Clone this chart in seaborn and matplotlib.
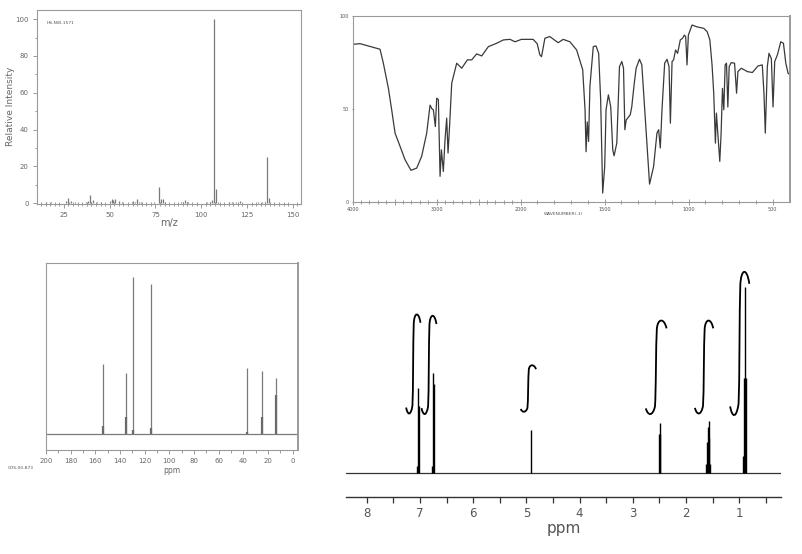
import numpy as np
import pandas as pd
import seaborn as sns
import matplotlib.pyplot as plt
from matplotlib.path import Path
from matplotlib.patches import PathPatch
from matplotlib.ticker import MultipleLocator, FixedLocator

# mass spectrum (m/z, relative intensity)
ms_mz = [15, 18, 26, 27, 28, 29, 31, 37, 38, 39, 40, 41, 43, 45, 50, 51, 52, 53, 55, 57,
         62, 63, 64, 65, 66, 67, 74, 77, 78, 79, 80, 89, 90, 91, 92, 93, 103, 105, 106, 107,
         108, 109, 115, 117, 119, 121, 131, 133, 135, 136, 137, 138]
ms_int = [0.5, 0.4, 1.0, 3.0, 0.8, 1.2, 0.4, 0.6, 1.2, 4.5, 0.6, 1.5, 0.5, 0.4, 1.0, 2.5, 1.5, 2.0, 1.0, 0.6,
          0.6, 1.0, 0.6, 2.3, 0.8, 0.5, 0.5, 9.0, 2.0, 2.2, 0.5, 0.8, 0.7, 1.5, 0.8, 0.6, 0.5, 0.8, 1.5, 100.0,
          7.8, 0.6, 0.6, 0.4, 0.5, 1.0, 0.4, 0.5, 0.6, 25.0, 2.7, 0.3]

# IR spectrum (wavenumber, %T)
ir_wn = [4000, 3913, 3714, 3675, 3635, 3575, 3536, 3496, 3437, 3377, 3306, 3238, 3179, 3119, 3079,
         3056, 3040, 3016, 3000, 2980, 2960, 2944, 2921, 2901, 2881, 2865, 2849, 2821, 2762, 2702,
         2635, 2583, 2524, 2464, 2385, 2286, 2206, 2127, 2067, 1996, 1926, 1902, 1886, 1876, 1856,
         1827, 1777, 1747, 1707, 1667, 1631, 1617, 1611, 1604, 1596, 1588, 1568, 1552, 1536, 1524,
         1512, 1500, 1492, 1478, 1464, 1452, 1444, 1428, 1412, 1398, 1388, 1380, 1372, 1348, 1339,
         1325, 1313, 1293, 1279, 1259, 1233, 1209, 1189, 1179, 1169, 1159, 1143, 1129, 1117, 1109,
         1099, 1090, 1078, 1066, 1050, 1036, 1026, 1018, 1010, 1002, 980, 950, 910, 890, 874,
         861, 851, 841, 835, 827, 815, 807, 799, 791, 783, 775, 767, 759, 747, 727,
         715, 707, 687, 651, 621, 588, 562, 552, 544, 532, 522, 508, 498, 488, 472,
         452, 436, 422, 408, 392]
ir_t = [84.6, 85.0, 82.5, 82.0, 74.5, 61.0, 49.5, 37.0, 30.0, 22.7, 17.0, 18.2, 24.5, 37.0, 52.0,
        50.0, 49.5, 40.5, 55.7, 55.0, 13.8, 28.0, 16.4, 33.4, 45.0, 26.3, 38.8, 63.8, 74.5, 71.8,
        76.3, 76.3, 79.5, 78.4, 83.4, 85.2, 87.0, 87.3, 86.0, 87.3, 87.3, 85.0, 79.0, 78.0, 87.9,
        88.8, 85.5, 87.3, 86.0, 81.6, 71.0, 49.5, 27.0, 43.0, 32.5, 62.0, 83.4, 83.8, 79.8, 54.8,
        4.8, 19.0, 49.5, 57.5, 51.0, 28.0, 24.8, 31.6, 72.7, 75.4, 71.8, 38.8, 44.0, 46.8, 51.0,
        62.9, 71.8, 76.6, 73.6, 45.9, 9.6, 19.0, 37.0, 38.8, 29.0, 49.5, 74.5, 76.6, 72.7, 42.3,
        75.4, 76.3, 81.6, 79.8, 87.0, 87.9, 89.6, 88.8, 73.6, 89.6, 95.0, 94.0, 93.2, 91.4, 87.0,
        73.6, 58.4, 31.6, 47.7, 37.0, 21.8, 37.0, 61.0, 49.5, 73.6, 74.5, 51.0, 72.7, 74.8, 74.5,
        58.4, 70.0, 71.8, 70.0, 69.5, 73.0, 73.6, 58.4, 37.0, 72.7, 79.8, 77.0, 51.0, 75.4, 79.0,
        86.0, 85.2, 74.5, 69.0, 68.2]

# 13C NMR
c13_ppm = [153.5, 134.9, 129.4, 115.1, 37.2, 24.7, 13.8]
c13_height = [44.8, 38.6, 100.0, 95.5, 41.8, 40.1, 35.4]
c13_inner = [5.1, 10.9, 2.3, 3.4, 1.3, 10.9, 24.7]

# 1H NMR sticks
h_ppm = [7.05, 7.035, 7.025, 6.77, 6.755, 6.745, 4.92,
         2.51, 2.495, 2.48, 1.63, 1.61, 1.595, 1.575, 1.56, 1.54,
         0.93, 0.905, 0.887, 0.87]
h_height = [4.0, 45.5, 36.0, 4.0, 53.6, 48.0, 23.2,
            21.0, 26.8, 21.0, 5.0, 17.0, 25.0, 28.0, 18.8, 5.0,
            9.0, 50.9, 100.0, 50.9]
# integral traces: centre, half width (ppm), bottom, top
int_c = [7.125, 6.83, 4.963, 2.56, 1.66, 0.99]
int_w = [0.135, 0.14, 0.144, 0.195, 0.172, 0.18]
int_lo = [32.1, 31.8, 33.0, 31.8, 32.1, 31.3]
int_hi = [84.3, 83.6, 57.5, 81.1, 81.1, 106.8]

sns.set_style("white")
plt.rcParams['font.family'] = ['DejaVu Sans']

W, H = 803, 554
fig = plt.figure(figsize=(W / 100, H / 100), dpi=100)


def px_axes(l, r, t, b):
    return fig.add_axes([l / W, 1 - b / H, (r - l) / W, (b - t) / H])


grey = '#8a8a8a'

# ---------------- mass spectrum ----------------
ax1 = px_axes(37, 301, 10, 203.5)
ax1.vlines(ms_mz, 0, ms_int, color='#7a7a7a', lw=0.9)
ax1.set_xlim(10.3, 154.5)
ax1.set_ylim(-0.2, 105)
ax1.xaxis.set_major_locator(MultipleLocator(25))
ax1.xaxis.set_minor_locator(MultipleLocator(2.5))
ax1.yaxis.set_major_locator(MultipleLocator(20))
ax1.yaxis.set_minor_locator(MultipleLocator(10))
ax1.tick_params(which='both', bottom=True, left=True, direction='out', color=grey,
                labelcolor='#666', labelsize=5, width=0.6)
ax1.tick_params(which='major', length=3, pad=3)
ax1.tick_params(which='minor', length=1.5)
ax1.tick_params(axis='x', which='minor', direction='inout', length=3)
for s in ax1.spines.values():
    s.set_color('#9a9a9a')
    s.set_linewidth(0.8)
ax1.set_xlabel('m/z', fontsize=7, color='#666', labelpad=0)
ax1.set_ylabel('Relative Intensity', fontsize=6.5, color='#666')
ax1.yaxis.set_label_coords(-0.085, 0.5)
ax1.text(0.035, 0.93, 'HS-NW-1571', transform=ax1.transAxes, fontsize=3.2, color='#555')

# ---------------- IR spectrum ----------------
ax2 = px_axes(352.7, 790, 15.7, 202)
ir = pd.DataFrame({'wn': ir_wn, 't': ir_t})


def fwd(x):
    x = np.asarray(x, dtype=float)
    return np.where(x > 2000, 2000 + (x - 2000) / 2, x)


def inv(u):
    u = np.asarray(u, dtype=float)
    return np.where(u > 2000, 2000 + (u - 2000) * 2, u)


ax2.set_xscale('function', functions=(fwd, inv))
sns.lineplot(data=ir, x='wn', y='t', ax=ax2, color='#3a3a3a', lw=0.9, sort=False)
ax2.set_xlim(4000, 397)
ax2.set_ylim(0, 100)
ax2.xaxis.set_major_locator(FixedLocator([4000, 3500, 3000, 2500, 2000, 1500, 1000, 500]))
ax2.set_xticklabels(['4000', '', '3000', '', '2000', '1500', '1000', '500'])
ax2.xaxis.set_minor_locator(FixedLocator(list(range(3900, 400, -100))))
ax2.yaxis.set_major_locator(FixedLocator([0, 50, 100]))
ax2.tick_params(which='both', bottom=True, left=True, direction='inout', color=grey,
                labelcolor='#555', labelsize=3.5, width=0.6)
ax2.tick_params(which='major', length=4, pad=1.5)
ax2.tick_params(which='minor', length=2.5)
ax2.tick_params(axis='y', length=2)
for s in ax2.spines.values():
    s.set_color('#9a9a9a')
    s.set_linewidth(0.8)
ax2.spines['right'].set_linewidth(1.4)
ax2.set_xlabel('WAVENUMBER(-1)', fontsize=3.2, color='#555', labelpad=2)
ax2.xaxis.set_label_coords(0.481, -0.055)
ax2.set_ylabel('')

# ---------------- 13C NMR ----------------
ax3 = px_axes(46, 297.7, 262.7, 450)
ax3.axhline(0, color='#7a7a7a', lw=0.9)
ax3.vlines(c13_ppm, 0, c13_height, color='#7a7a7a', lw=0.9)
ax3.vlines(c13_ppm, 0, c13_inner, color='#6a6a6a', lw=1.6)
ax3.set_xlim(200, -4.05)
ax3.set_ylim(-10.4, 109.4)
ax3.xaxis.set_major_locator(MultipleLocator(20))
ax3.xaxis.set_minor_locator(MultipleLocator(10))
ax3.set_yticks([])
ax3.tick_params(which='both', bottom=True, direction='out', color=grey,
                labelcolor='#666', labelsize=5, width=0.6)
ax3.tick_params(which='major', length=3, pad=3)
ax3.tick_params(which='minor', length=2)
for s in ax3.spines.values():
    s.set_color('#9a9a9a')
    s.set_linewidth(0.8)
ax3.spines['right'].set_linewidth(1.4)
ax3.set_xlabel('ppm', fontsize=5.5, color='#666', labelpad=1)
ax3.text(-0.15, -0.1, 'CDS-00-873', transform=ax3.transAxes, fontsize=3.2, color='#555')

# ---------------- 1H NMR ----------------
ax4 = px_axes(346, 780.7, 262, 497.3)
ax4.axhline(0, color='#333', lw=0.9)
ax4.vlines(h_ppm, 0, h_height, color='black', lw=1.0)

# integral curve template (u: -1 left .. 1 right, v: 0 bottom .. 1 top)
tmpl = [(-1.0, 0.06), (-0.8, -0.02), (-0.35, -0.03), (-0.12, 0.08),
        (-0.02, 0.22), (-0.03, 0.75), (0.06, 0.92),
        (0.13, 1.04), (0.75, 1.05), (1.0, 0.93)]
codes = [Path.MOVETO] + [Path.CURVE4] * 9
for c, w, lo, hi in zip(int_c, int_w, int_lo, int_hi):
    verts = [(c - u * w, lo + v * (hi - lo)) for u, v in tmpl]
    ax4.add_patch(PathPatch(Path(verts, codes), fc='none', ec='black', lw=1.3))

ax4.set_xlim(8.39, 0.22)
ax4.set_ylim(-12.86, 113.2)
ax4.xaxis.set_major_locator(MultipleLocator(1))
ax4.xaxis.set_minor_locator(MultipleLocator(0.5))
ax4.set_yticks([])
for k in ['top', 'left', 'right']:
    ax4.spines[k].set_visible(False)
ax4.spines['bottom'].set_color('#333')
ax4.spines['bottom'].set_linewidth(1.0)
ax4.tick_params(which='both', bottom=True, direction='out', color='#333',
                labelcolor='#555', labelsize=8.5, width=0.9)
ax4.tick_params(which='major', length=4, pad=3)
ax4.tick_params(which='minor', length=4)
ax4.set_xlabel('ppm', fontsize=11, color='#555', labelpad=1)

fig.savefig('out.png', dpi=100)
